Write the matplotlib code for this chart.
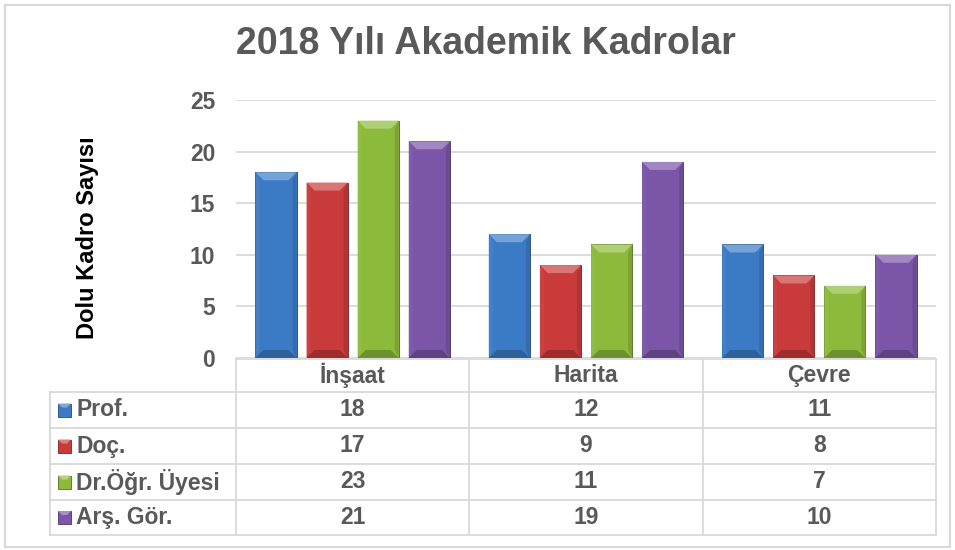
import matplotlib.pyplot as plt
from matplotlib.patches import Polygon, Rectangle
from matplotlib.lines import Line2D
from matplotlib.colors import to_rgb
from matplotlib.transforms import blended_transform_factory
import numpy as np

plt.rcParams['font.family'] = ['Liberation Sans', 'DejaVu Sans']
plt.rcParams['font.weight'] = 'bold'

# veriler
kategoriler = ['İnşaat', 'Harita', 'Çevre']
unvanlar = ['Prof.', 'Doç.', 'Dr.Öğr. Üyesi', 'Arş. Gör.']
prof = [18, 12, 11]
doc = [17, 9, 8]
dr_ogr = [23, 11, 7]
ars_gor = [21, 19, 10]
seriler = [prof, doc, dr_ogr, ars_gor]
renkler = ['#3B7BC6', '#C93A3A', '#8CBA3B', '#7A55A8']

GRI = '#595959'
CIZGI = '#D9D9D9'


def karistir(renk, hedef, oran):
    r = np.array(to_rgb(renk))
    h = np.array(to_rgb(hedef))
    return tuple(r + (h - r) * oran)


W, H = 955, 550
fig = plt.figure(figsize=(W / 100, H / 100), dpi=100)


def px(x):
    return x / W


def py(y):
    return 1 - y / H


# dis cerceve
fig.add_artist(Rectangle((px(5), py(547)), px(950) - px(5), py(5) - py(547),
                         fill=False, edgecolor=CIZGI, lw=1.5, transform=fig.transFigure))

ax = fig.add_axes([px(236), py(358), px(936) - px(236), py(100) - py(358)])
ax.set_xlim(0, 3)
ax.set_ylim(0, 25)
ax.set_yticks(range(0, 26, 5))
ax.set_xticks([])
ax.tick_params(axis='y', length=0, pad=15, labelsize=16.5, labelcolor=GRI)
for s in ax.spines.values():
    s.set_visible(False)
ax.yaxis.grid(True, color=CIZGI, lw=1.3)
ax.set_axisbelow(True)

# cubuklar (bevel efekti ile)
genislik = 0.176
adim = 0.219
x = np.arange(len(kategoriler)) + 0.5
bdx = 8 / (700 / 3)
bdy = 8 / (258 / 25)
for j, (seri, renk) in enumerate(zip(seriler, renkler)):
    bars = ax.bar(x + (j - 1.5) * adim, seri, genislik, color=renk,
                  edgecolor=karistir(renk, 'black', 0.45), lw=0.6, zorder=2)
    for b in bars:
        x0, w, h = b.get_x(), b.get_width(), b.get_height()
        x1 = x0 + w
        parcalar = [
            ([(x0, h), (x1, h), (x1 - bdx, h - bdy), (x0 + bdx, h - bdy)], karistir(renk, 'white', 0.3)),
            ([(x0, 0), (x1, 0), (x1 - bdx, bdy), (x0 + bdx, bdy)], karistir(renk, 'black', 0.22)),
            ([(x0, 0), (x0, h), (x0 + bdx * 0.5, h - bdy), (x0 + bdx * 0.5, bdy)], karistir(renk, 'white', 0.04)),
            ([(x1, 0), (x1, h), (x1 - bdx * 0.5, h - bdy), (x1 - bdx * 0.5, bdy)], karistir(renk, 'black', 0.12)),
        ]
        for pts, c in parcalar:
            ax.add_patch(Polygon(pts, closed=True, facecolor=c, edgecolor='none', zorder=3))

# baslik ve eksen etiketi
fig.text(px(486), py(44), '2018 Yılı Akademik Kadrolar', fontsize=27, color=GRI,
         ha='center', va='center')
fig.text(px(87), py(238), 'Dolu Kadro Sayısı', fontsize=17, color='black',
         rotation=90, ha='center', va='center')

# veri tablosu
tr = blended_transform_factory(ax.transData, fig.transFigure)
satirlar = [359, 392, 428, 464, 500, 535]
lw_t = 1.3

fig.add_artist(Line2D([0, 3], [py(satirlar[0])] * 2, color=CIZGI, lw=lw_t, transform=tr))
for yy in satirlar[1:]:
    fig.add_artist(Line2D([px(50), px(936)], [py(yy)] * 2, color=CIZGI, lw=lw_t,
                          transform=fig.transFigure))
for xx in range(len(kategoriler) + 1):
    fig.add_artist(Line2D([xx, xx], [py(satirlar[0]), py(satirlar[-1])], color=CIZGI,
                          lw=lw_t, transform=tr))
fig.add_artist(Line2D([px(50), px(50)], [py(satirlar[1]), py(satirlar[-1])], color=CIZGI,
                      lw=lw_t, transform=fig.transFigure))

for i, kat in enumerate(kategoriler):
    fig.text(i + 0.5, py((satirlar[0] + satirlar[1]) / 2), kat, transform=tr,
             fontsize=16.5, color=GRI, ha='center', va='center')

for k, (ad, seri, renk) in enumerate(zip(unvanlar, seriler, renkler)):
    yc = (satirlar[k + 1] + satirlar[k + 2]) / 2
    # lejant isareti
    fig.add_artist(Rectangle((px(58), py(yc + 6.5)), px(13), 13 / H, facecolor=renk,
                             edgecolor=karistir(renk, 'black', 0.4), lw=0.6,
                             transform=fig.transFigure))
    fig.add_artist(Polygon([(px(58), py(yc - 6.5)), (px(71), py(yc - 6.5)),
                            (px(67), py(yc - 2.5)), (px(62), py(yc - 2.5))],
                           closed=True, facecolor=karistir(renk, 'white', 0.35),
                           edgecolor='none', transform=fig.transFigure))
    fig.text(px(76), py(yc), ad, fontsize=16.5, color=GRI, ha='left', va='center')
    for i, v in enumerate(seri):
        fig.text(i + 0.5, py(yc), str(v), transform=tr, fontsize=16.5, color=GRI,
                 ha='center', va='center')

fig.savefig('out.png', dpi=100)
